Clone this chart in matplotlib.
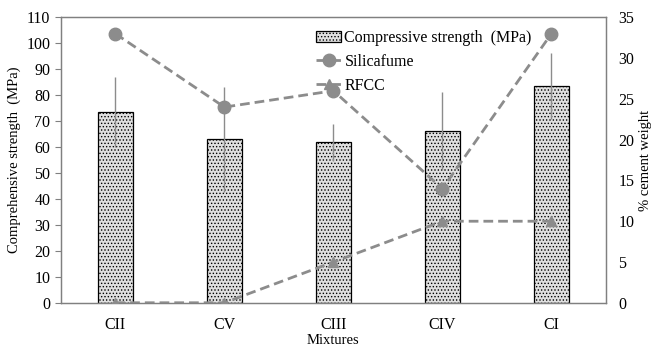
import matplotlib

matplotlib.use("Agg")

import matplotlib.pyplot as plt
import numpy as np

plt.rcParams["font.family"] = ["Liberation Serif", "DejaVu Serif"]
plt.rcParams["hatch.color"] = "#8a8a8a"
plt.rcParams["hatch.linewidth"] = 0.6

mixtures = ["CII", "CV", "CIII", "CIV", "CI"]
strength = [73.6, 63.0, 61.8, 66.2, 83.5]
strength_err = [13.6, 20.2, 7.0, 15.1, 12.7]
silicafume = [33, 24, 26, 14, 33]
rfcc = [0, 0, 5, 10, 10]

GRAY = "#8c8c8c"
SPINE = "#808080"

fig, ax = plt.subplots(figsize=(6.55, 3.48), dpi=100)
fig.subplots_adjust(left=0.093, right=0.925, bottom=0.13, top=0.95)

x = np.arange(len(mixtures))
ax.bar(
    x,
    strength,
    width=0.32,
    color="#e0e0e0",
    edgecolor="black",
    linewidth=0.9,
    hatch=".....",
    label="Compressive strength  (MPa)",
    zorder=2,
)
ax.errorbar(
    x,
    strength,
    yerr=strength_err,
    fmt="none",
    ecolor=GRAY,
    elinewidth=1.0,
    capsize=0,
    zorder=3,
)
ax.set_xlim(-0.5, len(mixtures) - 0.5)
ax.set_ylim(0, 110)
ax.set_yticks(np.arange(0, 111, 10))
ax.set_xticks(x, mixtures)
ax.set_xlabel("Mixtures", fontsize=10.5, labelpad=1)
ax.set_ylabel("Comprehensive strength  (MPa)", fontsize=10.5, labelpad=4)
ax.tick_params(axis="y", direction="out", length=4, color=SPINE, labelsize=11.5)
ax.tick_params(axis="x", length=0, labelsize=11.5, pad=10)

ax2 = ax.twinx()
ax2.plot(
    x,
    silicafume,
    color=GRAY,
    linestyle=(0, (3.5, 1.8)),
    linewidth=2.0,
    marker="o",
    markersize=9,
    label="Silicafume",
    zorder=4,
)
ax2.plot(
    x,
    rfcc,
    color=GRAY,
    linestyle=(0, (3.5, 1.8)),
    linewidth=2.0,
    marker="^",
    markersize=7,
    label="RFCC",
    zorder=4,
)
ax2.set_ylim(0, 35)
ax2.set_yticks(np.arange(0, 36, 5))
ax2.set_ylabel("% cement weight", fontsize=10.5, labelpad=3)
ax2.tick_params(axis="y", length=0, labelsize=11.5, pad=9)

for a in (ax, ax2):
    for spine in a.spines.values():
        spine.set_color(SPINE)
        spine.set_linewidth(0.9)

handles1, labels1 = ax.get_legend_handles_labels()
handles2, labels2 = ax2.get_legend_handles_labels()
ax2.legend(
    handles1 + handles2,
    labels1 + labels2,
    loc="upper left",
    bbox_to_anchor=(0.45, 0.99),
    frameon=False,
    fontsize=11.5,
    handlelength=1.6,
    handletextpad=0.2,
    labelspacing=0.5,
    borderaxespad=0.2,
)

fig.savefig("out.png", dpi=100)
